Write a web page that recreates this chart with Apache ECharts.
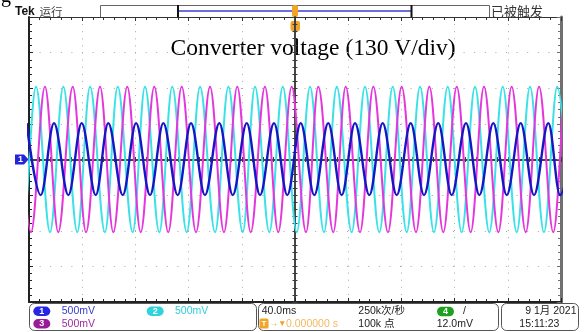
<!DOCTYPE html>
<html><head><meta charset="utf-8">
<script src="https://cdn.jsdelivr.net/npm/echarts@6/dist/echarts.min.js"></script>
<style>html,body{margin:0;padding:0;background:#fff;}#c{width:587px;height:332px;}</style>
</head><body><div id="c"></div>
<script>
// Time axis: ms across the screen (10 div x 40 ms), voltage axis: V (500 mV/div, 8 div)
const timeRange = [0, 400];
const timePerDiv = 40;
const voltRange = [-2, 2];
const voltPerDiv = 0.5;

// Channel 1 (blue): times of crests / troughs (ms), levels (V)
const ch1PeakT = [-1.8, 18.8, 39.6, 59.6, 80.5, 101.0, 121.8, 143.1, 163.7, 184.2, 204.3, 225.0, 245.1, 265.9, 287.0, 307.7, 328.6, 349.1, 369.7, 390.5, 410.5];
const ch1TroughT = [8.8, 29.6, 50.2, 70.5, 91.0, 111.8, 132.3, 153.2, 173.7, 194.2, 214.5, 235.1, 255.9, 276.5, 297.0, 317.8, 338.6, 359.2, 379.7, 399.3];
const ch1Levels = [0.51, -0.50];

// Channel 2 (cyan)
const ch2PeakT = [-15.3, 5.3, 25.8, 45.9, 66.7, 87.2, 107.7, 128.6, 149.9, 169.9, 190.8, 211.3, 231.4, 252.6, 273.5, 294.0, 314.8, 335.3, 356.2, 376.7, 397.2];
const ch2TroughT = [-4.8, 15.8, 36.3, 57.1, 78.0, 98.0, 118.6, 139.9, 160.7, 180.7, 201.3, 221.8, 242.6, 263.4, 284.0, 304.5, 325.3, 346.1, 366.7, 387.2, 407.5];
const ch2Levels = [1.02, -1.02];

// Channel 3 (magenta)
const ch3PeakT = [-8.6, 12.0, 32.9, 53.4, 73.9, 94.2, 114.8, 136.1, 156.6, 177.4, 197.5, 217.5, 238.1, 258.9, 280.2, 301.0, 321.6, 342.1, 362.9, 383.5, 404.1];
const ch3TroughT = [1.5, 22.0, 42.9, 63.4, 84.0, 104.7, 125.6, 146.6, 166.7, 187.4, 208.3, 228.8, 248.9, 269.9, 291.0, 311.5, 332.1, 352.9, 373.5, 394.2, 414.3];
const ch3Levels = [1.02, -1.02];

// Readout texts
const chScales = ['500mV', '500mV', '500mV'];
const horizText = ['40.0ms', '250k次/秒', '100k 点'];
const trigText = ['0.000000 s', '12.0mV'];
const dateText = ['9 1月 2021', '15:11:23'];

function wave(peaks, troughs, lv) {
  const pts = peaks.map(t => [t, lv[0]]).concat(troughs.map(t => [t, lv[1]]));
  pts.sort((a, b) => a[0] - b[0]);
  return pts;
}

const SANS = "'Liberation Sans','Noto Sans CJK SC',sans-serif";
const CJK = "'Noto Sans CJK SC',sans-serif";

function frameX(pos, grid, lineW, color, split) {
  return {
    type: 'value', gridIndex: grid, position: pos, min: timeRange[0], max: timeRange[1], interval: timePerDiv,
    axisLine: {show: true, onZero: false, lineStyle: {color: color, width: lineW}},
    axisTick: {show: true, inside: true, length: 4, lineStyle: {color: color}},
    minorTick: {show: true, splitNumber: 5, length: 3, lineStyle: {color: color}},
    axisLabel: {show: false},
    splitLine: {show: split, lineStyle: {color: '#a8a8a8', width: 1, type: [1, 6.1]}}
  };
}
function frameY(pos, grid, lineW, color, split) {
  return {
    type: 'value', gridIndex: grid, position: pos, min: voltRange[0], max: voltRange[1], interval: voltPerDiv,
    axisLine: {show: true, onZero: false, lineStyle: {color: color, width: lineW}},
    axisTick: {show: true, inside: true, length: 4, lineStyle: {color: color}},
    minorTick: {show: true, splitNumber: 5, length: 3, lineStyle: {color: color}},
    axisLabel: {show: false},
    splitLine: {show: split, lineStyle: {color: '#a8a8a8', width: 1, type: [1, 9.6]}}
  };
}
function crossX(grid, inside) {
  return {
    type: 'value', gridIndex: grid, position: 'bottom', min: -timeRange[1] / 2, max: timeRange[1] / 2, interval: timePerDiv,
    axisLine: {show: true, onZero: true, lineStyle: {color: '#3a3a3a', width: 1.5}},
    axisTick: {show: true, inside: inside, length: 2.5, lineStyle: {color: '#3a3a3a'}},
    minorTick: {show: true, splitNumber: 5, length: 2.5, lineStyle: {color: '#3a3a3a'}},
    axisLabel: {show: false}, splitLine: {show: false}
  };
}
function crossY(grid, inside) {
  return {
    type: 'value', gridIndex: grid, position: 'left', min: voltRange[0], max: voltRange[1], interval: voltPerDiv,
    axisLine: {show: true, onZero: true, lineStyle: {color: '#3a3a3a', width: 1.5}},
    axisTick: {show: true, inside: inside, length: 2.5, lineStyle: {color: '#3a3a3a'}},
    minorTick: {show: true, splitNumber: 5, length: 2.5, lineStyle: {color: '#3a3a3a'}},
    axisLabel: {show: false}, splitLine: {show: false}
  };
}

const gridRect = {left: 29, top: 17, width: 532, height: 285};

function line(color, data, w, z) {
  return {
    type: 'line', xAxisIndex: 0, yAxisIndex: 0, data: data, showSymbol: false, symbol: 'none',
    smooth: 0.36, smoothMonotone: 'x', clip: true, silent: true, animation: false, z: z,
    lineStyle: {color: color, width: w}, itemStyle: {color: color}
  };
}

function pill(x, y, color, label) {
  return {
    type: 'group', children: [
      {type: 'rect', shape: {x: x, y: y, width: 17, height: 9.5, r: 4.75}, style: {fill: color}},
      {type: 'text', style: {text: label, x: x + 8.5, y: y + 5, align: 'center', verticalAlign: 'middle', fill: '#fff', font: "bold 9px " + SANS}}
    ]
  };
}
function txt(s, x, y, color, size, family, weight, align) {
  return {type: 'text', style: {text: s, x: x, y: y, align: align || 'left', verticalAlign: 'middle', fill: color,
    font: (weight || 'normal') + ' ' + size + 'px ' + (family || SANS)}};
}

const row1 = 311, row2 = 323.8;
const graphics = [
  // caption fragment at the very top-left
  txt('g', 1, -3, '#000', 20, "'Liberation Serif',serif"),
  // top status bar
  txt('Tek', 15, 12, '#111', 12, SANS, 'bold'),
  txt('运行', 39.5, 11.5, '#444', 11.5, CJK),
  {type: 'rect', shape: {x: 100.5, y: 5.5, width: 389, height: 12}, style: {fill: '#fff', stroke: '#666', lineWidth: 1}},
  {type: 'line', shape: {x1: 178, y1: 11, x2: 411.5, y2: 11}, style: {stroke: '#6e6ee0', lineWidth: 2}},
  {type: 'line', shape: {x1: 178, y1: 5, x2: 178, y2: 17}, style: {stroke: '#111', lineWidth: 2}},
  {type: 'line', shape: {x1: 411.5, y1: 5, x2: 411.5, y2: 17}, style: {stroke: '#111', lineWidth: 2}},
  txt('已被触发', 491, 11, '#333', 13, CJK),
  // trigger position markers
  {type: 'rect', shape: {x: 292, y: 5, width: 6, height: 12, r: 2}, style: {fill: '#f0a428'}},
  {type: 'rect', shape: {x: 290.5, y: 21, width: 9.5, height: 10, r: 2}, style: {fill: '#f0a428'}},
  {type: 'polygon', shape: {points: [[292.5, 30.5], [298, 30.5], [295.25, 33.5]]}, style: {fill: '#f0a428'}},
  txt('T', 295.3, 26.3, '#fff', 8, SANS, 'bold', 'center'),
  // channel 1 ground marker
  {type: 'polygon', shape: {points: [[15, 154.5], [24, 154.5], [28.5, 159.5], [24, 164.5], [15, 164.5]]}, style: {fill: '#2424d8'}},
  txt('1', 20.5, 159.8, '#fff', 9, SANS, 'bold', 'center'),
  // title
  txt('Converter voltage (130 V/div)', 170.5, 48.8, '#000', 23.5, "'Liberation Serif','Times New Roman',serif"),
  // bottom readout boxes
  {type: 'rect', shape: {x: 29.5, y: 303.5, width: 227, height: 27, r: 5}, style: {fill: 'none', stroke: '#555', lineWidth: 1}},
  {type: 'rect', shape: {x: 258.5, y: 303.5, width: 240, height: 27, r: 5}, style: {fill: 'none', stroke: '#555', lineWidth: 1}},
  {type: 'rect', shape: {x: 501.5, y: 303.5, width: 77, height: 27, r: 5}, style: {fill: 'none', stroke: '#555', lineWidth: 1}},
  pill(33.3, 306.5, '#2626e6', '1'),
  txt(chScales[0], 61.7, row1, '#3a3acc', 10.5),
  pill(146.7, 306.5, '#2fd3da', '2'),
  txt(chScales[1], 175, row1, '#2fcfd6', 10.5),
  pill(33.3, 319, '#9a1c9a', '3'),
  txt(chScales[2], 61.7, row2, '#a02aa0', 10.5),
  txt(horizText[0], 261.7, row1, '#222', 10.5),
  {type: 'rect', shape: {x: 259.5, y: 318.5, width: 9, height: 10, r: 1.5}, style: {fill: '#f0a428'}},
  txt('T', 264, 323.8, '#fff', 8, SANS, 'bold', 'center'),
  txt('→▼', 269.5, row2, '#f0a428', 8.5),
  txt(trigText[0], 286, row2, '#f3b860', 10.5),
  txt(horizText[1], 358.3, row1, '#222', 10.5),
  txt(horizText[2], 358.3, row2, '#222', 10.5),
  pill(437, 306.8, '#1ea01e', '4'),
  txt('/', 463, row1, '#222', 10.5),
  txt(trigText[1], 436.7, row2, '#222', 10.5),
  txt(dateText[0], 576.5, row1, '#222', 10.5, SANS, 'normal', 'right'),
  txt(dateText[1], 519.3, row2, '#222', 10.5)
];

const chart = echarts.init(document.getElementById('c'), null, {renderer: 'canvas'});
chart.setOption({
  animation: false,
  backgroundColor: '#fff',
  grid: [
    Object.assign({containLabel: false}, gridRect),
    Object.assign({containLabel: false}, gridRect),
    Object.assign({containLabel: false}, gridRect)
  ],
  xAxis: [frameX('bottom', 0, 2, '#222', true), frameX('top', 0, 1, '#333', false), crossX(1, true), crossX(2, false)],
  yAxis: [frameY('left', 0, 2, '#222', true), frameY('right', 0, 3, '#707070', false), crossY(1, true), crossY(2, false)],
  series: [
    line('#38e2e6', wave(ch2PeakT, ch2TroughT, ch2Levels), 2, 3),
    line('#e436dc', wave(ch3PeakT, ch3TroughT, ch3Levels), 2, 4),
    line('#1616c4', wave(ch1PeakT, ch1TroughT, ch1Levels), 2.4, 5)
  ],
  graphic: graphics
});
</script>
</body></html>
